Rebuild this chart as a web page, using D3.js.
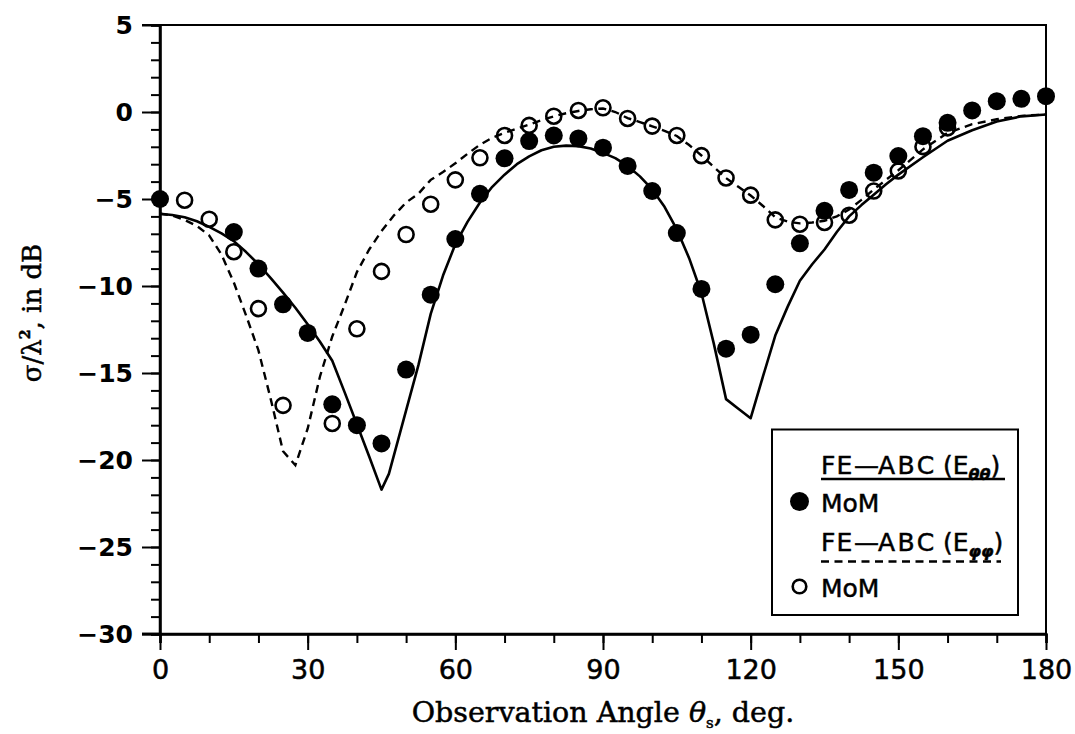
<!DOCTYPE html>
<html>
<head>
<meta charset="utf-8">
<script src="https://cdn.jsdelivr.net/npm/d3@7"></script>
<style>
  html, body { margin: 0; padding: 0; background: #fff; }
  svg { display: block; }
</style>
</head>
<body>
<svg id="chart" width="1075" height="734"></svg>
<script>
// Bistatic RCS vs observation angle: FE-ABC curves and MoM reference points

// FE-ABC, E_theta-theta (solid)
const feThetaAngles = [0,2.5,5,7.5,10,12.5,15,17.5,20,22.5,25,27.5,30,32.5,35,37.5,40,42.5,45,46.5,50,52.5,55,57.5,60,62.5,65,67.5,70,72.5,75,77.5,80,82.5,85,87.5,90,92.5,95,97.5,100,102.5,105,107.5,110,112.5,115,117.5,120,122.5,125,127.5,130,132.5,135,137.5,140,142.5,145,147.5,150,155,160,165,170,175,180];
const feThetaValues = [-5.85,-5.92,-6.05,-6.28,-6.6,-6.98,-7.42,-8.05,-8.75,-9.55,-10.38,-11.25,-12.2,-13.2,-14.3,-16.1,-17.95,-19.8,-21.7,-20.8,-17.15,-14.55,-11.6,-9.4,-7.6,-6.3,-5.2,-4.3,-3.6,-3.0,-2.55,-2.2,-2.0,-1.93,-1.96,-2.1,-2.35,-2.65,-3.1,-3.7,-4.45,-5.45,-6.75,-8.4,-10.4,-13.3,-16.5,-17.05,-17.6,-15.2,-12.85,-11.2,-9.7,-8.75,-7.9,-6.9,-6.0,-5.35,-4.75,-4.15,-3.6,-2.6,-1.65,-1.05,-0.55,-0.25,-0.14];

// FE-ABC, E_phi-phi (dashed)
const fePhiAngles = [0,2.5,5,7.5,10,12.5,15,17.5,20,22.5,25,27.5,30,32.5,35,37.5,40,42.5,45,47.5,50,52.5,55,57.5,60,62.5,65,67.5,70,72.5,75,77.5,80,82.5,85,87.5,90,92.5,95,97.5,100,102.5,105,107.5,110,112.5,115,117.5,120,122.5,125,127.5,130,132.5,135,137.5,140,142.5,145,147.5,150,155,160,165,170,175,180];
const fePhiValues = [-5.85,-5.95,-6.2,-6.55,-7.1,-8.2,-9.8,-11.7,-13.7,-16.5,-19.5,-20.3,-18.2,-15.2,-12.9,-11.1,-9.2,-7.9,-6.85,-5.95,-5.2,-4.7,-3.9,-3.45,-2.95,-2.4,-1.88,-1.48,-1.2,-0.95,-0.72,-0.47,-0.25,-0.07,0.06,0.16,0.2,0.0,-0.35,-0.58,-0.82,-1.08,-1.38,-1.9,-2.5,-3.15,-3.8,-4.3,-4.8,-5.4,-6.05,-6.3,-6.4,-6.35,-6.25,-6.0,-5.6,-5.05,-4.45,-3.9,-3.35,-2.15,-1.2,-0.7,-0.42,-0.22,-0.14];

// MoM, E_theta-theta (filled circles)
const momThetaAngles = [0,15,20,25,30,35,40,45,50,55,60,65,70,75,80,85,90,95,100,105,110,115,120,125,130,135,140,145,150,155,160,165,170,175,180];
const momThetaValues = [-5.0,-6.9,-9.0,-11.05,-12.7,-16.8,-18.0,-19.05,-14.8,-10.5,-7.3,-4.7,-2.66,-1.67,-1.35,-1.52,-2.05,-3.1,-4.54,-6.96,-10.17,-13.6,-12.8,-9.9,-7.55,-5.68,-4.48,-3.49,-2.53,-1.39,-0.62,0.09,0.62,0.76,0.91];

// MoM, E_phi-phi (open circles)
const momPhiAngles = [5,10,15,20,25,35,40,45,50,55,60,65,70,75,80,85,90,95,100,105,110,115,120,125,130,135,140,145,150,155,160];
const momPhiValues = [-5.07,-6.16,-8.03,-11.3,-16.86,-17.9,-12.46,-9.16,-7.04,-5.3,-3.9,-2.63,-1.35,-0.77,-0.24,0.09,0.24,-0.37,-0.81,-1.35,-2.51,-3.79,-4.78,-6.2,-6.45,-6.35,-5.93,-4.54,-3.39,-1.99,-0.91];

// Axis ticks
const xMajorTicks = [0,30,60,90,120,150,180];
const xMinorTicks = d3.range(0, 181, 10);
const yMajorTicks = [-30,-25,-20,-15,-10,-5,0,5];
const yMinorTicks = d3.range(-30, 6, 1);

const svg = d3.select("#chart");
const plotLeft = 160, plotRight = 1046, plotTop = 25, plotBottom = 634;

const x = d3.scaleLinear().domain([0, 180]).range([plotLeft, plotRight]);
const y = d3.scaleLinear().domain([-30, 5]).range([plotBottom, plotTop]);

const zip = (a, b) => a.map((d, i) => [d, b[i]]);

// frame: top and right edges
svg.append("path")
  .attr("d", `M${plotLeft - 18},${plotTop}H${plotRight}V${plotBottom}`)
  .attr("fill", "none").attr("stroke", "#000").attr("stroke-width", 2);

// y axis
const yMinor = svg.append("g").attr("transform", `translate(${plotLeft},0)`)
  .call(d3.axisLeft(y).tickValues(yMinorTicks).tickSize(9).tickFormat(""));
const yMajor = svg.append("g").attr("transform", `translate(${plotLeft},0)`)
  .call(d3.axisLeft(y).tickValues(yMajorTicks).tickSize(18).tickPadding(9).tickFormat(d3.format("d")));

// x axis
const xMinor = svg.append("g").attr("transform", `translate(0,${plotBottom})`)
  .call(d3.axisBottom(x).tickValues(xMinorTicks).tickSize(9).tickFormat(""));
const xMajor = svg.append("g").attr("transform", `translate(0,${plotBottom})`)
  .call(d3.axisBottom(x).tickValues(xMajorTicks).tickSize(16).tickPadding(10).tickFormat(d3.format("d")));

[yMinor, yMajor, xMinor, xMajor].forEach(g => {
  g.select(".domain").attr("stroke-width", 2.5).attr("stroke", "#000");
  g.selectAll(".tick line").attr("stroke-width", 2).attr("stroke", "#000");
});
yMajor.select(".domain").attr("d", `M${-18},${plotBottom}H0V${plotTop}`);
xMajor.select(".domain").attr("d", `M${plotLeft - 18},0H${plotRight}`);

yMajor.selectAll(".tick text")
  .attr("font-family", "'DejaVu Sans', sans-serif")
  .attr("font-weight", "bold")
  .attr("font-size", 25)
  .attr("fill", "#000");
xMajor.selectAll(".tick text")
  .attr("font-family", "'DejaVu Sans', sans-serif")
  .attr("font-size", 27)
  .attr("fill", "#000")
  .attr("stroke", "#000").attr("stroke-width", 0.5);

// axis titles
const xTitle = svg.append("text")
  .attr("x", (plotLeft + plotRight) / 2).attr("y", 722)
  .attr("text-anchor", "middle")
  .attr("font-family", "'DejaVu Serif', serif")
  .attr("font-size", 28.5)
  .attr("fill", "#000")
  .attr("stroke", "#000").attr("stroke-width", 0.5);
xTitle.append("tspan").text("Observation Angle ");
xTitle.append("tspan").attr("font-style", "italic").text("θ");
xTitle.append("tspan").attr("font-size", 15).attr("dy", 6).text("s");
xTitle.append("tspan").attr("dy", -6).text(", deg.");

const yTitle = svg.append("text")
  .attr("transform", `translate(41,${313}) rotate(-90)`)
  .attr("text-anchor", "middle")
  .attr("font-family", "'DejaVu Serif', serif")
  .attr("font-size", 26)
  .attr("fill", "#000")
  .attr("stroke", "#000").attr("stroke-width", 0.5);
yTitle.append("tspan").text("σ/λ");
yTitle.append("tspan").attr("font-size", 14).attr("font-weight", "bold").attr("dy", -11).text("2");
yTitle.append("tspan").attr("dy", 11).text(", in dB");

// curves
const line = d3.line().x(d => x(d[0])).y(d => y(d[1])).curve(d3.curveLinear);

svg.append("path")
  .datum(zip(feThetaAngles, feThetaValues))
  .attr("d", line)
  .attr("fill", "none").attr("stroke", "#000").attr("stroke-width", 2.6)
  .attr("stroke-linejoin", "round");

svg.append("path")
  .datum(zip(fePhiAngles, fePhiValues))
  .attr("d", line)
  .attr("fill", "none").attr("stroke", "#000").attr("stroke-width", 2.4)
  .attr("stroke-dasharray", "8,5.5");

// MoM points
svg.append("g").selectAll("circle")
  .data(zip(momPhiAngles, momPhiValues))
  .join("circle")
  .attr("cx", d => x(d[0])).attr("cy", d => y(d[1]))
  .attr("r", 7.5)
  .attr("fill", "none").attr("stroke", "#000").attr("stroke-width", 2.6);

svg.append("g").selectAll("circle")
  .data(zip(momThetaAngles, momThetaValues))
  .join("circle")
  .attr("cx", d => x(d[0])).attr("cy", d => y(d[1]))
  .attr("r", 9)
  .attr("fill", "#000");

// legend
const lg = svg.append("g");
lg.append("rect")
  .attr("x", 772).attr("y", 429.5).attr("width", 246).attr("height", 185.5)
  .attr("fill", "#fff").attr("stroke", "#000").attr("stroke-width", 2);

const legendFont = g => g
  .attr("font-family", "'DejaVu Sans', sans-serif")
  .attr("font-size", 25)
  .attr("fill", "#000")
  .attr("stroke", "#000").attr("stroke-width", 0.5);

function feLabel(yPos, sub) {
  const t = lg.append("text").attr("y", yPos).call(legendFont);
  t.append("tspan").attr("x", 821).attr("letter-spacing", 1).text("FE");
  t.append("tspan").attr("x", 854).text("—");
  t.append("tspan").attr("x", 878).attr("letter-spacing", 2.5).text("ABC");
  t.append("tspan").attr("x", 943).text("(E");
  t.append("tspan").attr("font-size", 16).attr("font-style", "italic").attr("font-weight", "bold")
    .attr("dy", 6).text(sub);
  t.append("tspan").attr("dy", -6).text(")");
}

feLabel(474, "θθ");
lg.append("path")
  .attr("d", "M821,479H1005")
  .attr("stroke", "#000").attr("stroke-width", 2.6).attr("fill", "none");

lg.append("circle").attr("cx", 799.5).attr("cy", 501.5).attr("r", 9.5).attr("fill", "#000");
lg.append("text").attr("x", 821).attr("y", 511.5).call(legendFont).text("MoM");

feLabel(551, "φφ");
lg.append("path")
  .attr("d", "M821,561.5H1001")
  .attr("stroke", "#000").attr("stroke-width", 2.4).attr("fill", "none")
  .attr("stroke-dasharray", "8,5.5");

lg.append("circle").attr("cx", 799.5).attr("cy", 586.5).attr("r", 6.8)
  .attr("fill", "none").attr("stroke", "#000").attr("stroke-width", 2.6);
lg.append("text").attr("x", 821).attr("y", 596.5).call(legendFont).text("MoM");
</script>
</body>
</html>
